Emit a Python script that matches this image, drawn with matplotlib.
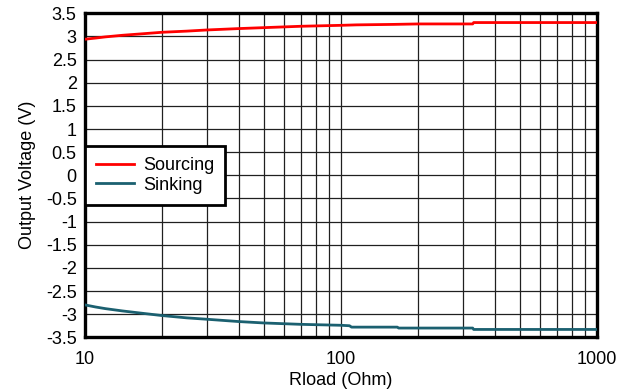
import matplotlib
matplotlib.use("Agg")
import matplotlib.pyplot as plt
from matplotlib.ticker import FixedLocator, NullFormatter, FixedFormatter

plt.rcParams['font.family'] = ['Liberation Sans', 'DejaVu Sans']

src_r = [10, 11, 12, 14, 17, 20, 25, 30, 40, 50, 70, 100, 115, 160, 200, 327, 330, 1000]
src_v = [2.94, 2.965, 2.99, 3.025, 3.06, 3.09, 3.115, 3.14, 3.17, 3.19, 3.22, 3.24, 3.25, 3.26, 3.27, 3.27, 3.30, 3.30]
snk_r = [10, 11, 12, 14, 17, 20, 25, 30, 40, 50, 70, 100, 108, 110, 166, 168, 327, 330, 1000]
snk_v = [-2.80, -2.845, -2.88, -2.93, -2.985, -3.03, -3.08, -3.11, -3.16, -3.19, -3.22, -3.24, -3.25, -3.28, -3.28, -3.30, -3.30, -3.33, -3.33]

y_ticks = [3.5, 3, 2.5, 2, 1.5, 1, 0.5, 0, -0.5, -1, -1.5, -2, -2.5, -3, -3.5]
y_labels = ['3.5', '3', '2.5', '2', '1.5', '1', '0.5', '0', '-0.5', '-1', '-1.5', '-2', '-2.5', '-3', '-3.5']
x_ticks = [10, 100, 1000]
x_labels = ['10', '100', '1000']

fs = 13

fig = plt.figure(figsize=(6.31, 3.91), dpi=100)
ax = fig.add_axes([0.1347, 0.1373, 0.8113, 0.8287])
ax.set_xscale('log')
ax.set_xlim(10, 1000)
ax.set_ylim(-3.5, 3.5)

ax.plot(src_r, src_v, color='#ff0000', lw=2.0, label='Sourcing', zorder=3)
ax.plot(snk_r, snk_v, color='#1b6070', lw=2.0, label='Sinking', zorder=3)

ax.yaxis.set_major_locator(FixedLocator(y_ticks))
ax.yaxis.set_major_formatter(FixedFormatter(y_labels))
ax.xaxis.set_major_locator(FixedLocator(x_ticks))
ax.xaxis.set_major_formatter(FixedFormatter(x_labels))
minor = [m * d for d in (10, 100) for m in range(2, 10)]
ax.xaxis.set_minor_locator(FixedLocator(minor))
ax.xaxis.set_minor_formatter(NullFormatter())
ax.grid(True, which='both', color='#202020', lw=0.9)
ax.tick_params(which='both', length=0, labelsize=fs, colors='black')
ax.tick_params(axis='y', pad=6)
ax.tick_params(axis='x', pad=10)

for s in ax.spines.values():
    s.set_linewidth(2.4)
    s.set_color('black')

ax.set_xlabel('Rload (Ohm)', fontsize=fs, labelpad=3)
ax.set_ylabel('Output Voltage (V)', fontsize=fs, labelpad=7)

leg = ax.legend(loc='upper left', bbox_to_anchor=(0.0, 0.59), fontsize=fs,
                fancybox=False, framealpha=1, edgecolor='black',
                borderaxespad=0, handlelength=2.1, handletextpad=0.5,
                borderpad=0.6, labelspacing=0.15)
leg.get_frame().set_linewidth(2.0)

fig.savefig('out.png', dpi=100)
